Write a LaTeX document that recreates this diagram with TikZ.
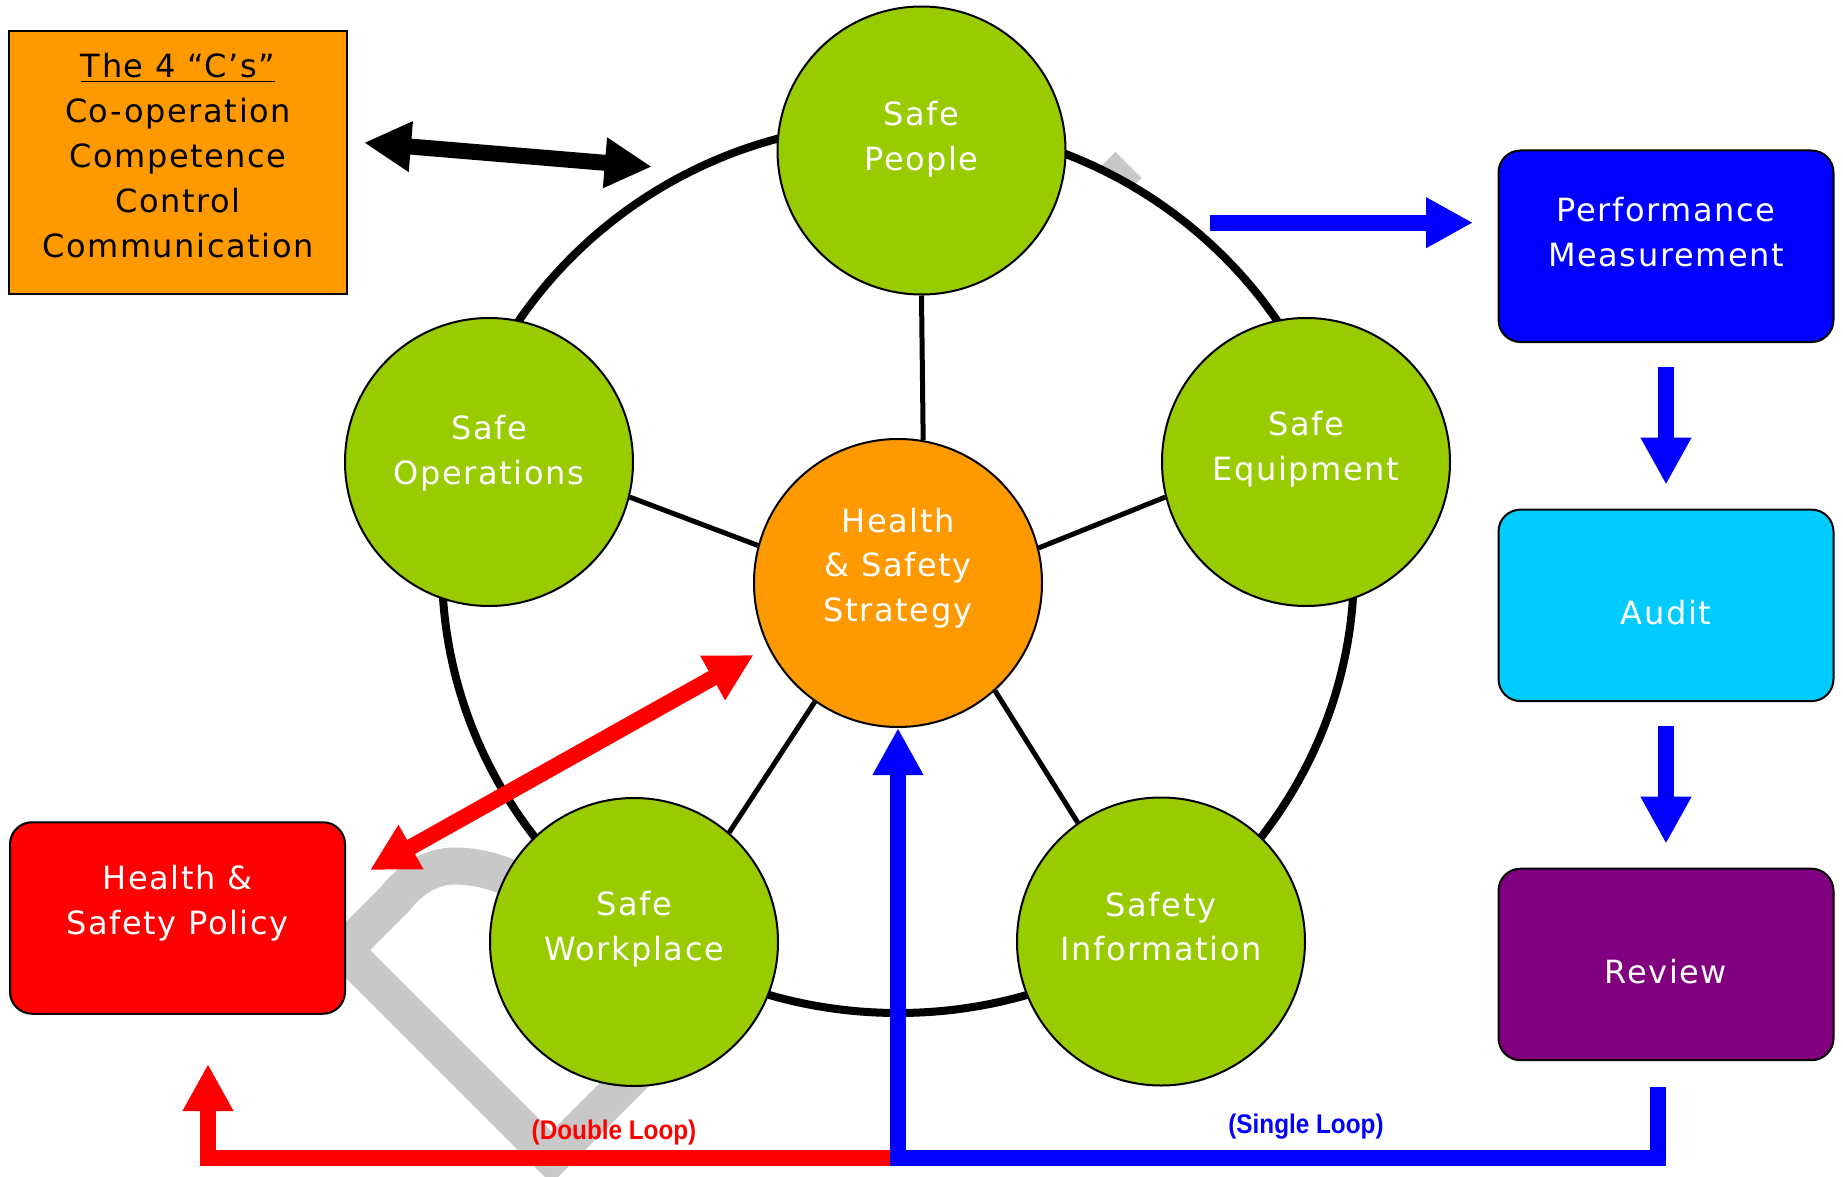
\documentclass[tikz,border=0pt]{standalone}
\usepackage{fontspec}
\setmainfont{DejaVu Sans}[LetterSpace=5]
\newfontfamily\loopfont{Liberation Sans}[FakeStretch=0.9]
\usetikzlibrary{arrows.meta}
\usetikzlibrary{positioning}

\definecolor{safegreen}{HTML}{99CC00}
\definecolor{hsorange}{HTML}{FF9900}
\definecolor{perfblue}{HTML}{0000FF}
\definecolor{auditcyan}{HTML}{00CCFF}
\definecolor{reviewpurple}{HTML}{800080}
\definecolor{policyred}{HTML}{FF0000}
\definecolor{ghostgray}{HTML}{C8C8C8}

\tikzset{
  ghost/.style={draw=ghostgray,line width=18.5pt,line join=miter},
  ring/.style={draw=black,fill=white,line width=4pt},
  spoke/.style={draw=black,line width=2.5pt},
  circ/.style={circle,draw=black,line width=1pt,fill=safegreen,minimum size=144pt,inner sep=0pt},
  circtext/.style={text=white,align=center,font=\fontsize{16}{22.4}\selectfont},
  stepbox/.style={rectangle,rounded corners=11pt,draw=black,line width=1pt,minimum width=167.5pt,minimum height=95.75pt,inner sep=0pt},
  boxtext/.style={text=white,align=center,font=\fontsize{16}{22.4}\selectfont},
  looplab/.style={inner sep=0pt,font=\loopfont\bfseries\fontsize{13.5}{15}\selectfont},
  fat/.style={line width=8pt}
}

\begin{document}
\begin{tikzpicture}[x=0.5pt,y=-0.5pt,>={Triangle[length=23.5pt,width=23.75pt]}]

  \useasboundingbox[fill=white] (0,0) rectangle (1843,1177);

  % grey loop behind the wheel
  \draw[ghost] (1128.5,165) -- (780,513.5);
  \draw[ghost] (560,905) .. controls (520,878) and (485,866) .. (455,866)
    .. controls (430,866) and (410,880) .. (395,899) -- (344,950) -- (551.5,1157.5) -- (700,1009);

  % the wheel
  \draw[ring] (898,568) ellipse [x radius=228pt,y radius=222.5pt];

  \node[circ,fill=hsorange,label={[circtext,yshift=7.5pt]center:Health\\\& Safety\\Strategy}] (hs) at (898,583) {};
  \node[circ,label={[circtext,yshift=5.8pt]center:Safe\\People}] (people) at (921.5,150.5) {};
  \node[circ,label={[circtext,yshift=4.4pt]center:Safe\\Operations}] (ops) at (489,462) {};
  \node[circ,label={[circtext,yshift=6.3pt]center:Safe\\Equipment}] (equip) at (1306,462) {};
  \node[circ,label={[circtext,yshift=6.3pt]center:Safe\\Workplace}] (work) at (634,942) {};
  \node[circ,label={[circtext,yshift=7.5pt]center:Safety\\Information}] (info) at (1161,941.5) {};

  \path [spoke]
    (people.south) edge (hs.80.6)
    (ops.-14)      edge (hs.165.6)
    (equip.194)    edge (hs.14.4)
    (work.49.5)    edge (hs.235.7)
    (info.125.5)   edge (hs.-48.2);

  % boxes
  \node[rectangle,draw=black,line width=1pt,fill=hsorange,minimum width=168.6pt,minimum height=131.6pt,
    label={[align=center,font=\fontsize{16}{22.45}\selectfont,yshift=3.2pt]center:\underline{The 4 “C’s”}\\Co-operation\\Competence\\Control\\Communication}] (cs) at (178,162.25) {};

  \node[stepbox,fill=perfblue,label={[boxtext,yshift=7pt]center:Performance\\Measurement}] (perf) at (1666,246.25) {};
  \node[stepbox,fill=auditcyan,below=82.8pt of perf,label={[boxtext,yshift=-3.5pt]center:Audit}] (audit) {};
  \node[stepbox,fill=reviewpurple,below=82.8pt of audit,label={[boxtext,yshift=-3.75pt]center:Review}] (review) {};
  \node[stepbox,fill=policyred,label={[boxtext,yshift=7.5pt]center:Health \&\\Safety Policy}] (policy) at (177.5,918) {};

  % arrows
  \coordinate (cs-tip) at (364,142.7);
  \coordinate (wheel-tip) at (651.8,166.7);
  \draw[fat,<->] (cs-tip) -- (wheel-tip);

  \coordinate (pm-tail) at (1209.7,222.7);
  \coordinate (pm-tip) at (1473,222.7);
  \draw[fat,perfblue,->] (pm-tail) -- (pm-tip);
  \draw[fat,perfblue,->] ([yshift=-12pt]perf.south) -- ([yshift=12pt]audit.north);
  \draw[fat,perfblue,->] ([yshift=-12pt]audit.south) -- ([yshift=12pt]review.north);

  \coordinate (pol-tip) at (370,870);
  \coordinate (hs-tip) at (753.6,655);
  \draw[fat,policyred,<->] (pol-tip) -- (hs-tip);

  % the two loops
  \coordinate (loop-base) at (898,1158);
  \coordinate (double-tip) at (208,1064);
  \coordinate (single-start) at (1658,1087);
  \draw[fat,policyred,->,line join=miter] (loop-base) -| (double-tip);
  \draw[fat,perfblue,->,line join=miter] (single-start) |- (loop-base) -- (hs.south);

  \node[looplab,text=policyred] (double-lab) at (614,1133) {(Double Loop)};
  \node[looplab,text=perfblue] (single-lab) at (1306,1127) {(Single Loop)};

\end{tikzpicture}
\end{document}
